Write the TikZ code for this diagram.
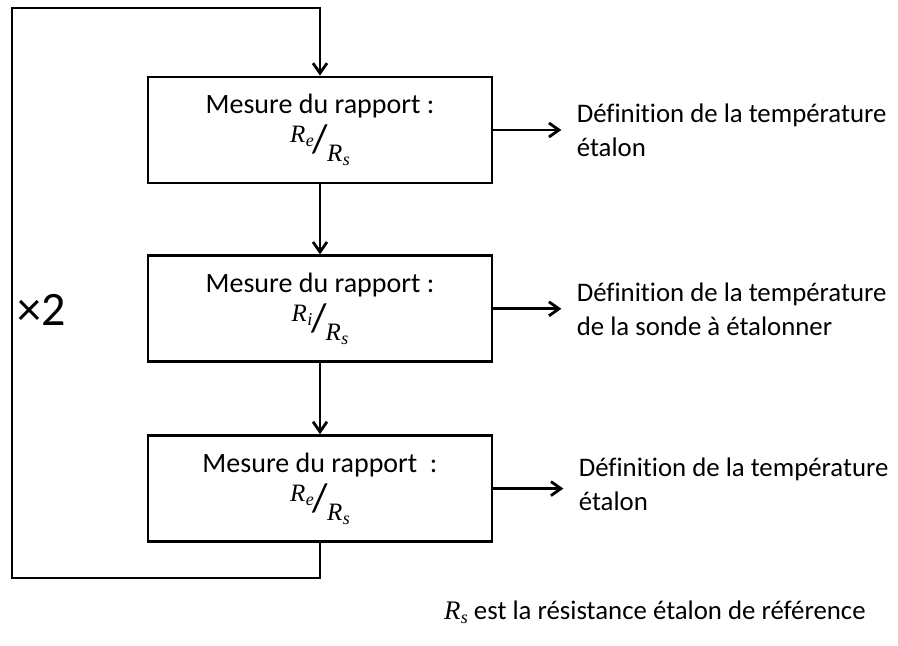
\documentclass[tikz,border=0pt]{standalone}
\usepackage{amsmath}
\usepackage{fontspec}
\setmainfont{Carlito}[Ligatures=CommonOff]
\newfontfamily\varfont{Liberation Serif}
\usepackage{tikz}
\usetikzlibrary{positioning,arrows.meta}

% grandeur en italique avec indice
\newcommand{\grand}[2]{{\varfont\itshape #1\kern0.2pt\raisebox{-2pt}{\fontsize{9}{9}\selectfont #2}}}
% rapport en barre oblique
\newcommand{\ratio}[2]{\raisebox{5pt}{\fontsize{12.5}{12.5}\selectfont #1}\kern-0.5pt{\fontsize{20}{20}\selectfont/}\kern-0.5pt\raisebox{-4.5pt}{\fontsize{12.5}{12.5}\selectfont #2}}

\begin{document}
\begin{tikzpicture}[
    x=0.5pt, y=-0.5pt,
    node distance=35pt and 41.5pt,
    mbox/.style={draw, line width=1.4pt, minimum width=172pt, minimum height=53pt, align=center, inner sep=2pt},
    deftxt/.style={align=left, inner sep=0pt, font=\fontsize{13.4}{17}\selectfont},
    arr/.style={-{Straight Barb[length=5pt, width=7pt]}, line width=1.4pt},
    every node/.style={font=\fontsize{14}{17.5}\selectfont}
]
\useasboundingbox (0,0) rectangle (898,646);

\node[mbox] (mes1) at (320,130) {Mesure du rapport :\\[2pt]\ratio{\grand{R}{e}}{\grand{R}{s}}};
\node[mbox, below=of mes1] (mes2) {Mesure du rapport :\\[2pt]\ratio{\grand{R}{i}}{\grand{R}{s}}};
\node[mbox, below=35.5pt of mes2] (mes3) {Mesure du rapport~~:\\[2pt]\ratio{\grand{R}{e}}{\grand{R}{s}}};

\node[deftxt, right=of mes1] (def1) {Définition de la température\\étalon};
\node[deftxt, right=of mes2] (def2) {Définition de la température\\de la sonde à étalonner};
\node[deftxt, right=42.5pt of mes3, yshift=2pt] (def3) {Définition de la température\\étalon};

\node (fois) at (42,310) {\fontsize{24}{24}\selectfont ×2};
\node[deftxt, anchor=east] (note) at (866,612) {\grand{R}{s} est la résistance étalon de référence};

\coordinate (loopbl) at (12,578);
\coordinate (looptl) at (12,8);

\draw[arr] (mes1) -- (mes2);
\draw[arr] (mes2) -- (mes3);
\draw[arr] (mes3.south) |- (loopbl) -- (looptl) -| (mes1.north);
\draw[arr, shorten >=7.5pt] (mes1.east) -- (mes1.east -| def1.west);
\draw[arr, shorten >=7.5pt] (mes2.east) -- (mes2.east -| def2.west);
\draw[arr, shorten >=7.5pt] (mes3.east) -- (mes3.east -| def3.west);
\end{tikzpicture}
\end{document}
